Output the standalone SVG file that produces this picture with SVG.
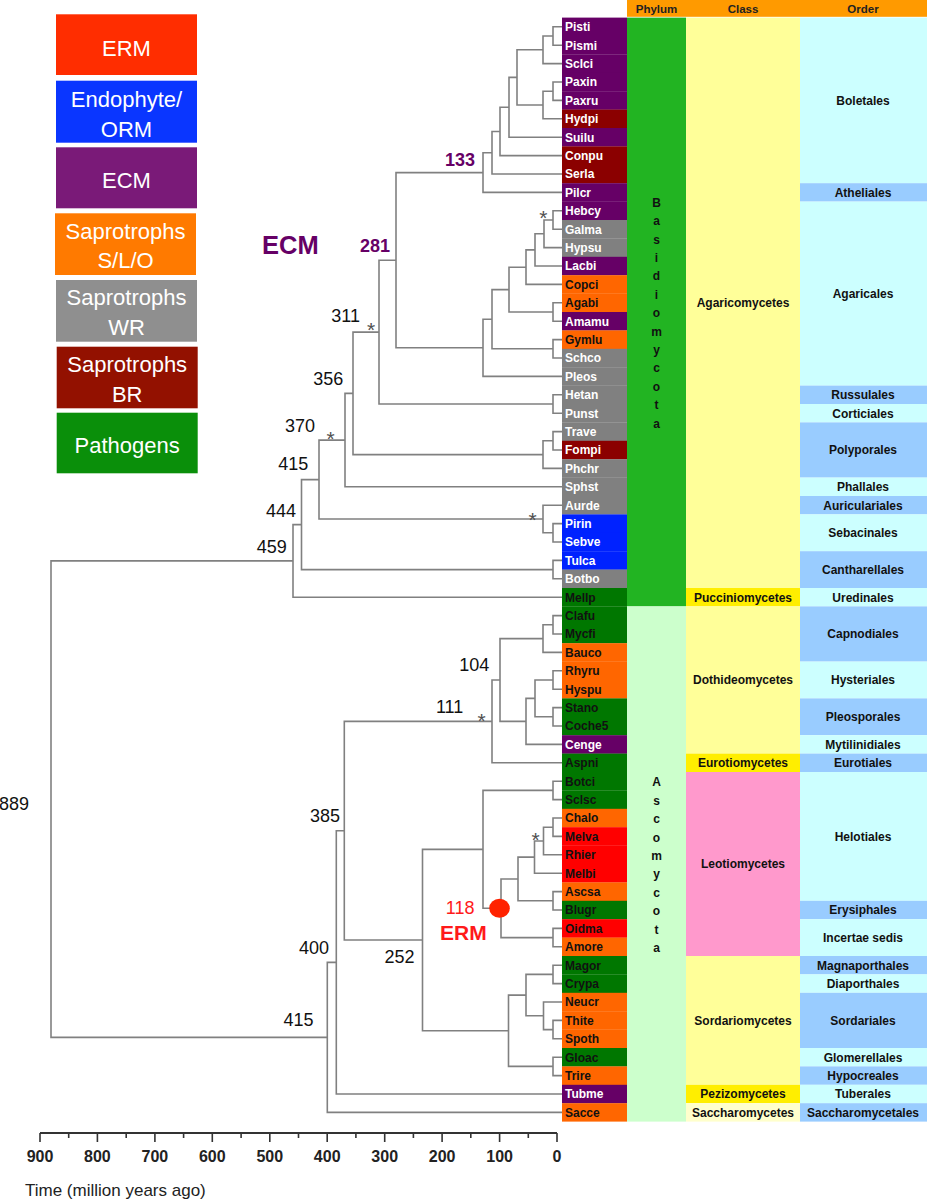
<svg xmlns="http://www.w3.org/2000/svg" width="927" height="1200" viewBox="0 0 927 1200">
<style>
text{font-family:"Liberation Sans",Arial,sans-serif}
.tl{fill:none;stroke:#808080;stroke-width:1.6}
.tx{font-weight:bold;font-size:12px}
.w{fill:#fff}.k{fill:#111}
.pu{fill:#660066}.br{fill:#8B0000}.gy{fill:#808080}.or{fill:#FF6600}.bl{fill:#0022FF}.gr{fill:#007700}.rd{fill:#FF0000}
.cy{fill:#CCFFFF}.lb{fill:#99CCFF}.ly{fill:#FFFF99}.by{fill:#FFEE00}.py{fill:#FFFFCC}.pk{fill:#FF99CC}
.lab{font-weight:bold;font-size:12px;fill:#111;text-anchor:middle}
.hd{font-weight:bold;font-size:11.5px;fill:#222;text-anchor:middle}
.num{font-size:18px;fill:#111;text-anchor:end}
.pnum{font-size:18px;font-weight:bold;fill:#660066;text-anchor:end}
.ast{font-size:21px;fill:#505050;text-anchor:middle}
.leg{font-size:22px;fill:#fff;text-anchor:middle}
.ax{font-size:16px;font-weight:bold;fill:#222;text-anchor:middle}
.tick{stroke:#333;stroke-width:1.6}
</style>

<g id="legend">
<g id="leg-erm"><rect x="56" y="14.3" width="141" height="60.7" fill="#FF2D00"/><text class="leg" x="126.5" y="56">ERM</text></g>
<g id="leg-endo"><rect x="56" y="80.7" width="141" height="62" fill="#0A36FF"/><text class="leg" x="126.5" y="106.7">Endophyte/</text><text class="leg" x="126.5" y="136.5">ORM</text></g>
<g id="leg-ecm"><rect x="56" y="147.3" width="141" height="61" fill="#7A1A78"/><text class="leg" x="126.5" y="188.3">ECM</text></g>
<g id="leg-slo"><rect x="55" y="213.3" width="141" height="61.7" fill="#FF7A00"/><text class="leg" x="125.5" y="239">Saprotrophs</text><text class="leg" x="125.5" y="268.3">S/L/O</text></g>
<g id="leg-wr"><rect x="56" y="280" width="141" height="61.7" fill="#8F8F8F"/><text class="leg" x="126.5" y="305">Saprotrophs</text><text class="leg" x="126.5" y="335">WR</text></g>
<g id="leg-br"><rect x="56.7" y="346.7" width="141" height="61.6" fill="#931100"/><text class="leg" x="127.2" y="371.7">Saprotrophs</text><text class="leg" x="127.2" y="401.5">BR</text></g>
<g id="leg-path"><rect x="56.7" y="412.7" width="141" height="60.6" fill="#0A8F0A"/><text class="leg" x="127.2" y="453.3">Pathogens</text></g>
</g>

<g id="header">
<rect x="627" y="0" width="300" height="16.8" fill="#FF9A00"/>
<text class="hd" x="656.5" y="12.5">Phylum</text>
<text class="hd" x="743" y="12.5">Class</text>
<text class="hd" x="863" y="12.5">Order</text>
</g>

<g id="phylum">
<g id="ph-basidio"><rect x="627" y="17.6" width="59" height="588.8" fill="#22B422"/>
<text class="lab" x="656.5" y="206.8">B<tspan x="656.5" dy="18.4">a</tspan><tspan x="656.5" dy="18.4">s</tspan><tspan x="656.5" dy="18.4">i</tspan><tspan x="656.5" dy="18.4">d</tspan><tspan x="656.5" dy="18.4">i</tspan><tspan x="656.5" dy="18.4">o</tspan><tspan x="656.5" dy="18.4">m</tspan><tspan x="656.5" dy="18.4">y</tspan><tspan x="656.5" dy="18.4">c</tspan><tspan x="656.5" dy="18.4">o</tspan><tspan x="656.5" dy="18.4">t</tspan><tspan x="656.5" dy="18.4">a</tspan></text></g>
<g id="ph-asco"><rect x="627" y="606.4" width="59" height="515.2" fill="#CCFFCC"/>
<text class="lab" x="656.5" y="786.3">A<tspan x="656.5" dy="18.4">s</tspan><tspan x="656.5" dy="18.4">c</tspan><tspan x="656.5" dy="18.4">o</tspan><tspan x="656.5" dy="18.4">m</tspan><tspan x="656.5" dy="18.4">y</tspan><tspan x="656.5" dy="18.4">c</tspan><tspan x="656.5" dy="18.4">o</tspan><tspan x="656.5" dy="18.4">t</tspan><tspan x="656.5" dy="18.4">a</tspan></text></g>
</g>

<g id="class">
<g id="c-agar"><rect class="ly" x="686" y="17.6" width="114" height="570.4"/><text class="lab" x="743" y="307.1">Agaricomycetes</text></g>
<g id="c-pucc"><rect class="by" x="686" y="588" width="114" height="18.4"/><text class="lab" x="743" y="601.5">Pucciniomycetes</text></g>
<g id="c-doth"><rect class="ly" x="686" y="606.4" width="114" height="147.2"/><text class="lab" x="743" y="684.3">Dothideomycetes</text></g>
<g id="c-euro"><rect class="by" x="686" y="753.6" width="114" height="18.4"/><text class="lab" x="743" y="767.1">Eurotiomycetes</text></g>
<g id="c-leot"><rect class="pk" x="686" y="772" width="114" height="184"/><text class="lab" x="743" y="868.3">Leotiomycetes</text></g>
<g id="c-sord"><rect class="ly" x="686" y="956" width="114" height="128.8"/><text class="lab" x="743" y="1024.7">Sordariomycetes</text></g>
<g id="c-pezi"><rect class="by" x="686" y="1084.8" width="114" height="18.4"/><text class="lab" x="743" y="1098.3">Pezizomycetes</text></g>
<g id="c-sacc"><rect class="py" x="686" y="1103.2" width="114" height="18.4"/><text class="lab" x="743" y="1116.7">Saccharomycetes</text></g>
</g>

<g id="order">
<g id="o1"><rect class="cy" x="800" y="17.6" width="127" height="165.6"/><text class="lab" x="863" y="104.7">Boletales</text></g>
<g id="o2"><rect class="lb" x="800" y="183.2" width="127" height="18.4"/><text class="lab" x="863" y="196.7">Atheliales</text></g>
<g id="o3"><rect class="cy" x="800" y="201.6" width="127" height="184"/><text class="lab" x="863" y="297.9">Agaricales</text></g>
<g id="o4"><rect class="lb" x="800" y="385.6" width="127" height="18.4"/><text class="lab" x="863" y="399.1">Russulales</text></g>
<g id="o5"><rect class="cy" x="800" y="404" width="127" height="18.4"/><text class="lab" x="863" y="417.5">Corticiales</text></g>
<g id="o6"><rect class="lb" x="800" y="422.4" width="127" height="55.2"/><text class="lab" x="863" y="454.3">Polyporales</text></g>
<g id="o7"><rect class="cy" x="800" y="477.6" width="127" height="18.4"/><text class="lab" x="863" y="491.1">Phallales</text></g>
<g id="o8"><rect class="lb" x="800" y="496" width="127" height="18.4"/><text class="lab" x="863" y="509.5">Auriculariales</text></g>
<g id="o9"><rect class="cy" x="800" y="514.4" width="127" height="36.8"/><text class="lab" x="863" y="537.1">Sebacinales</text></g>
<g id="o10"><rect class="lb" x="800" y="551.2" width="127" height="36.8"/><text class="lab" x="863" y="573.9">Cantharellales</text></g>
<g id="o11"><rect class="cy" x="800" y="588" width="127" height="18.4"/><text class="lab" x="863" y="601.5">Uredinales</text></g>
<g id="o12"><rect class="lb" x="800" y="606.4" width="127" height="55.2"/><text class="lab" x="863" y="638.3">Capnodiales</text></g>
<g id="o13"><rect class="cy" x="800" y="661.6" width="127" height="36.8"/><text class="lab" x="863" y="684.3">Hysteriales</text></g>
<g id="o14"><rect class="lb" x="800" y="698.4" width="127" height="36.8"/><text class="lab" x="863" y="721.1">Pleosporales</text></g>
<g id="o15"><rect class="cy" x="800" y="735.2" width="127" height="18.4"/><text class="lab" x="863" y="748.7">Mytilinidiales</text></g>
<g id="o16"><rect class="lb" x="800" y="753.6" width="127" height="18.4"/><text class="lab" x="863" y="767.1">Eurotiales</text></g>
<g id="o17"><rect class="cy" x="800" y="772" width="127" height="128.8"/><text class="lab" x="863" y="840.7">Helotiales</text></g>
<g id="o18"><rect class="lb" x="800" y="900.8" width="127" height="18.4"/><text class="lab" x="863" y="914.3">Erysiphales</text></g>
<g id="o19"><rect class="cy" x="800" y="919.2" width="127" height="36.8"/><text class="lab" x="863" y="941.9">Incertae sedis</text></g>
<g id="o20"><rect class="lb" x="800" y="956" width="127" height="18.4"/><text class="lab" x="863" y="969.5">Magnaporthales</text></g>
<g id="o21"><rect class="cy" x="800" y="974.4" width="127" height="18.4"/><text class="lab" x="863" y="987.9">Diaporthales</text></g>
<g id="o22"><rect class="lb" x="800" y="992.8" width="127" height="55.2"/><text class="lab" x="863" y="1024.7">Sordariales</text></g>
<g id="o23"><rect class="cy" x="800" y="1048" width="127" height="18.4"/><text class="lab" x="863" y="1061.5">Glomerellales</text></g>
<g id="o24"><rect class="lb" x="800" y="1066.4" width="127" height="18.4"/><text class="lab" x="863" y="1079.9">Hypocreales</text></g>
<g id="o25"><rect class="cy" x="800" y="1084.8" width="127" height="18.4"/><text class="lab" x="863" y="1098.3">Tuberales</text></g>
<g id="o26"><rect class="lb" x="800" y="1103.2" width="127" height="18.4"/><text class="lab" x="863" y="1116.7">Saccharomycetales</text></g>
</g>

<g id="taxa">
<g id="t-Pisti"><rect class="pu" x="562" y="17.6" width="65" height="18.6"/><text class="tx w" x="565" y="31.2">Pisti</text></g>
<g id="t-Pismi"><rect class="pu" x="562" y="36" width="65" height="18.6"/><text class="tx w" x="565" y="49.6">Pismi</text></g>
<g id="t-Sclci"><rect class="pu" x="562" y="54.4" width="65" height="18.6"/><text class="tx w" x="565" y="68">Sclci</text></g>
<g id="t-Paxin"><rect class="pu" x="562" y="72.8" width="65" height="18.6"/><text class="tx w" x="565" y="86.4">Paxin</text></g>
<g id="t-Paxru"><rect class="pu" x="562" y="91.2" width="65" height="18.6"/><text class="tx w" x="565" y="104.8">Paxru</text></g>
<g id="t-Hydpi"><rect class="br" x="562" y="109.6" width="65" height="18.6"/><text class="tx w" x="565" y="123.2">Hydpi</text></g>
<g id="t-Suilu"><rect class="pu" x="562" y="128" width="65" height="18.6"/><text class="tx w" x="565" y="141.6">Suilu</text></g>
<g id="t-Conpu"><rect class="br" x="562" y="146.4" width="65" height="18.6"/><text class="tx w" x="565" y="160">Conpu</text></g>
<g id="t-Serla"><rect class="br" x="562" y="164.8" width="65" height="18.6"/><text class="tx w" x="565" y="178.4">Serla</text></g>
<g id="t-Pilcr"><rect class="pu" x="562" y="183.2" width="65" height="18.6"/><text class="tx w" x="565" y="196.8">Pilcr</text></g>
<g id="t-Hebcy"><rect class="pu" x="562" y="201.6" width="65" height="18.6"/><text class="tx w" x="565" y="215.2">Hebcy</text></g>
<g id="t-Galma"><rect class="gy" x="562" y="220" width="65" height="18.6"/><text class="tx w" x="565" y="233.6">Galma</text></g>
<g id="t-Hypsu"><rect class="gy" x="562" y="238.4" width="65" height="18.6"/><text class="tx w" x="565" y="252">Hypsu</text></g>
<g id="t-Lacbi"><rect class="pu" x="562" y="256.8" width="65" height="18.6"/><text class="tx w" x="565" y="270.4">Lacbi</text></g>
<g id="t-Copci"><rect class="or" x="562" y="275.2" width="65" height="18.6"/><text class="tx k" x="565" y="288.8">Copci</text></g>
<g id="t-Agabi"><rect class="or" x="562" y="293.6" width="65" height="18.6"/><text class="tx k" x="565" y="307.2">Agabi</text></g>
<g id="t-Amamu"><rect class="pu" x="562" y="312" width="65" height="18.6"/><text class="tx w" x="565" y="325.6">Amamu</text></g>
<g id="t-Gymlu"><rect class="or" x="562" y="330.4" width="65" height="18.6"/><text class="tx k" x="565" y="344">Gymlu</text></g>
<g id="t-Schco"><rect class="gy" x="562" y="348.8" width="65" height="18.6"/><text class="tx w" x="565" y="362.4">Schco</text></g>
<g id="t-Pleos"><rect class="gy" x="562" y="367.2" width="65" height="18.6"/><text class="tx w" x="565" y="380.8">Pleos</text></g>
<g id="t-Hetan"><rect class="gy" x="562" y="385.6" width="65" height="18.6"/><text class="tx w" x="565" y="399.2">Hetan</text></g>
<g id="t-Punst"><rect class="gy" x="562" y="404" width="65" height="18.6"/><text class="tx w" x="565" y="417.6">Punst</text></g>
<g id="t-Trave"><rect class="gy" x="562" y="422.4" width="65" height="18.6"/><text class="tx w" x="565" y="436">Trave</text></g>
<g id="t-Fompi"><rect class="br" x="562" y="440.8" width="65" height="18.6"/><text class="tx w" x="565" y="454.4">Fompi</text></g>
<g id="t-Phchr"><rect class="gy" x="562" y="459.2" width="65" height="18.6"/><text class="tx w" x="565" y="472.8">Phchr</text></g>
<g id="t-Sphst"><rect class="gy" x="562" y="477.6" width="65" height="18.6"/><text class="tx w" x="565" y="491.2">Sphst</text></g>
<g id="t-Aurde"><rect class="gy" x="562" y="496" width="65" height="18.6"/><text class="tx w" x="565" y="509.6">Aurde</text></g>
<g id="t-Pirin"><rect class="bl" x="562" y="514.4" width="65" height="18.6"/><text class="tx w" x="565" y="528">Pirin</text></g>
<g id="t-Sebve"><rect class="bl" x="562" y="532.8" width="65" height="18.6"/><text class="tx w" x="565" y="546.4">Sebve</text></g>
<g id="t-Tulca"><rect class="bl" x="562" y="551.2" width="65" height="18.6"/><text class="tx w" x="565" y="564.8">Tulca</text></g>
<g id="t-Botbo"><rect class="gy" x="562" y="569.6" width="65" height="18.6"/><text class="tx w" x="565" y="583.2">Botbo</text></g>
<g id="t-Mellp"><rect class="gr" x="562" y="588" width="65" height="18.6"/><text class="tx k" x="565" y="601.6">Mellp</text></g>
<g id="t-Clafu"><rect class="gr" x="562" y="606.4" width="65" height="18.6"/><text class="tx k" x="565" y="620">Clafu</text></g>
<g id="t-Mycfi"><rect class="gr" x="562" y="624.8" width="65" height="18.6"/><text class="tx k" x="565" y="638.4">Mycfi</text></g>
<g id="t-Bauco"><rect class="or" x="562" y="643.2" width="65" height="18.6"/><text class="tx k" x="565" y="656.8">Bauco</text></g>
<g id="t-Rhyru"><rect class="or" x="562" y="661.6" width="65" height="18.6"/><text class="tx k" x="565" y="675.2">Rhyru</text></g>
<g id="t-Hyspu"><rect class="or" x="562" y="680" width="65" height="18.6"/><text class="tx k" x="565" y="693.6">Hyspu</text></g>
<g id="t-Stano"><rect class="gr" x="562" y="698.4" width="65" height="18.6"/><text class="tx k" x="565" y="712">Stano</text></g>
<g id="t-Coche5"><rect class="gr" x="562" y="716.8" width="65" height="18.6"/><text class="tx k" x="565" y="730.4">Coche5</text></g>
<g id="t-Cenge"><rect class="pu" x="562" y="735.2" width="65" height="18.6"/><text class="tx w" x="565" y="748.8">Cenge</text></g>
<g id="t-Aspni"><rect class="gr" x="562" y="753.6" width="65" height="18.6"/><text class="tx k" x="565" y="767.2">Aspni</text></g>
<g id="t-Botci"><rect class="gr" x="562" y="772" width="65" height="18.6"/><text class="tx k" x="565" y="785.6">Botci</text></g>
<g id="t-Sclsc"><rect class="gr" x="562" y="790.4" width="65" height="18.6"/><text class="tx k" x="565" y="804">Sclsc</text></g>
<g id="t-Chalo"><rect class="or" x="562" y="808.8" width="65" height="18.6"/><text class="tx k" x="565" y="822.4">Chalo</text></g>
<g id="t-Melva"><rect class="rd" x="562" y="827.2" width="65" height="18.6"/><text class="tx k" x="565" y="840.8">Melva</text></g>
<g id="t-Rhier"><rect class="rd" x="562" y="845.6" width="65" height="18.6"/><text class="tx k" x="565" y="859.2">Rhier</text></g>
<g id="t-Melbi"><rect class="rd" x="562" y="864" width="65" height="18.6"/><text class="tx k" x="565" y="877.6">Melbi</text></g>
<g id="t-Ascsa"><rect class="or" x="562" y="882.4" width="65" height="18.6"/><text class="tx k" x="565" y="896">Ascsa</text></g>
<g id="t-Blugr"><rect class="gr" x="562" y="900.8" width="65" height="18.6"/><text class="tx k" x="565" y="914.4">Blugr</text></g>
<g id="t-Oidma"><rect class="rd" x="562" y="919.2" width="65" height="18.6"/><text class="tx k" x="565" y="932.8">Oidma</text></g>
<g id="t-Amore"><rect class="or" x="562" y="937.6" width="65" height="18.6"/><text class="tx k" x="565" y="951.2">Amore</text></g>
<g id="t-Magor"><rect class="gr" x="562" y="956" width="65" height="18.6"/><text class="tx k" x="565" y="969.6">Magor</text></g>
<g id="t-Crypa"><rect class="gr" x="562" y="974.4" width="65" height="18.6"/><text class="tx k" x="565" y="988">Crypa</text></g>
<g id="t-Neucr"><rect class="or" x="562" y="992.8" width="65" height="18.6"/><text class="tx k" x="565" y="1006.4">Neucr</text></g>
<g id="t-Thite"><rect class="or" x="562" y="1011.2" width="65" height="18.6"/><text class="tx k" x="565" y="1024.8">Thite</text></g>
<g id="t-Spoth"><rect class="or" x="562" y="1029.6" width="65" height="18.6"/><text class="tx k" x="565" y="1043.2">Spoth</text></g>
<g id="t-Gloac"><rect class="gr" x="562" y="1048" width="65" height="18.6"/><text class="tx k" x="565" y="1061.6">Gloac</text></g>
<g id="t-Trire"><rect class="or" x="562" y="1066.4" width="65" height="18.6"/><text class="tx k" x="565" y="1080">Trire</text></g>
<g id="t-Tubme"><rect class="pu" x="562" y="1084.8" width="65" height="18.6"/><text class="tx w" x="565" y="1098.4">Tubme</text></g>
<g id="t-Sacce"><rect class="or" x="562" y="1103.2" width="65" height="18.4"/><text class="tx k" x="565" y="1116.8">Sacce</text></g>
</g>

<g id="connectors" class="tl">
<path d="M562,26.8H553V45.2H562"/>
<path d="M553,36H543V63.6H562"/>
<path d="M562,82H553V100.4H562"/>
<path d="M553,91.2H543V118.8H562"/>
<path d="M543,49.8H517V105H543"/>
<path d="M517,77.4H509V137.2H562"/>
<path d="M509,107.3H500V155.6H562"/>
<path d="M500,131.5H492V174H562"/>
<path d="M492,152.7H483V192.4H562"/>
<path d="M562,210.8H553V229.2H562"/>
<path d="M553,220H544V247.6H562"/>
<path d="M544,233.8H535V266H562"/>
<path d="M535,249.9H526V284.4H562"/>
<path d="M562,302.8H553V321.2H562"/>
<path d="M526,267.2H509V312H553"/>
<path d="M562,339.6H553V358H562"/>
<path d="M509,289.6H492V348.8H553"/>
<path d="M492,319.2H483V376.4H562"/>
<path d="M483,172.6H396V347.8H483"/>
<path d="M562,394.8H553V413.2H562"/>
<path d="M396,260.2H379V404H553"/>
<path d="M562,431.6H553V450H562"/>
<path d="M553,440.8H543V468.4H562"/>
<path d="M379,332.1H353V454.6H543"/>
<path d="M353,393.4H345V486.8H562"/>
<path d="M562,523.6H553V542H562"/>
<path d="M562,505.2H543V532.8H553"/>
<path d="M345,440.1H319V519H543"/>
<path d="M562,560.4H553V578.8H562"/>
<path d="M319,479.6H301.5V569.6H553"/>
<path d="M301.5,524.6H293V597.2H562"/>
<path d="M562,615.6H553V634H562"/>
<path d="M553,624.8H543V652.4H562"/>
<path d="M562,670.8H553V689.2H562"/>
<path d="M562,707.6H553V726H562"/>
<path d="M553,680H535V716.8H553"/>
<path d="M535,698.4H526V744.4H562"/>
<path d="M543,638.6H500V721.4H526"/>
<path d="M500,680H492V762.8H562"/>
<path d="M562,781.2H553V799.6H562"/>
<path d="M562,818H553V836.4H562"/>
<path d="M553,827.2H543.5V854.8H562"/>
<path d="M543.5,841H534.5V873.2H562"/>
<path d="M562,891.6H553V910H562"/>
<path d="M534.5,857.1H518V900.8H553"/>
<path d="M562,928.4H553V946.8H562"/>
<path d="M518,879H501V937.6H553"/>
<path d="M553,790.4H483V908.3H501"/>
<path d="M562,965.2H553V983.6H562"/>
<path d="M562,1020.4H553V1038.8H562"/>
<path d="M562,1002H543.5V1029.6H553"/>
<path d="M553,974.4H526V1015.8H543.5"/>
<path d="M562,1057.2H553V1075.6H562"/>
<path d="M526,995.1H508.5V1066.4H553"/>
<path d="M483,849.4H422.5V1030.8H508.5"/>
<path d="M492,721.4H344.3V940H422.5"/>
<path d="M344.3,830.7H336.3V1094H562"/>
<path d="M336.3,962.4H327.3V1112.4H562"/>
<path d="M293,560.9H51V1037.4H327.3"/>
</g>

<g id="erm-node"><ellipse cx="499.5" cy="908.3" rx="10.3" ry="9.5" fill="#FF2200"/></g>

<g id="node-labels">
<text class="pnum" x="475" y="166">133</text>
<text class="pnum" x="390" y="252">281</text>
<text x="262" y="254" font-size="25.5" font-weight="bold" fill="#660066">ECM</text>
<text class="num" x="360" y="322">311</text>
<text class="num" x="343.3" y="385">356</text>
<text class="num" x="315" y="431.7">370</text>
<text class="num" x="308.3" y="470">415</text>
<text class="num" x="296" y="517.3">444</text>
<text class="num" x="286.7" y="553.3">459</text>
<text class="num" x="489.3" y="671">104</text>
<text class="num" x="463.3" y="712.7">111</text>
<text class="num" x="340" y="821.7">385</text>
<text class="num" x="329" y="954">400</text>
<text class="num" x="414.5" y="963.3">252</text>
<text class="num" x="313.5" y="1025.7">415</text>
<text class="num" x="29" y="810">889</text>
<text class="num" x="474.5" y="914" style="fill:#FF1A1A">118</text>
<text x="440" y="940" font-size="21" font-weight="bold" fill="#FF1A1A">ERM</text>
<text class="ast" x="543.3" y="225">*</text>
<text class="ast" x="371" y="336.7">*</text>
<text class="ast" x="330.7" y="445.7">*</text>
<text class="ast" x="532.7" y="526.7">*</text>
<text class="ast" x="481.7" y="727.7">*</text>
<text class="ast" x="535.7" y="846.7">*</text>
</g>

<g id="axis">
<line x1="40" y1="1133" x2="557" y2="1133" stroke="#333" stroke-width="2"/>
<path class="tick" d="M40,1133V1142M97.4,1133V1142M154.9,1133V1142M212.3,1133V1142M269.8,1133V1142M327.2,1133V1142M384.7,1133V1142M442.1,1133V1142M499.6,1133V1142M557,1133V1142"/>
<path class="tick" d="M68.7,1133V1138M126.2,1133V1138M183.6,1133V1138M241.1,1133V1138M298.5,1133V1138M355.9,1133V1138M413.4,1133V1138M470.8,1133V1138M528.3,1133V1138"/>
<text class="ax" x="40" y="1162">900</text>
<text class="ax" x="97.4" y="1162">800</text>
<text class="ax" x="154.9" y="1162">700</text>
<text class="ax" x="212.3" y="1162">600</text>
<text class="ax" x="269.8" y="1162">500</text>
<text class="ax" x="327.2" y="1162">400</text>
<text class="ax" x="384.7" y="1162">300</text>
<text class="ax" x="442.1" y="1162">200</text>
<text class="ax" x="499.6" y="1162">100</text>
<text class="ax" x="557" y="1162">0</text>
<text x="25" y="1196" font-size="17" fill="#222">Time (million years ago)</text>
</g>
</svg>
